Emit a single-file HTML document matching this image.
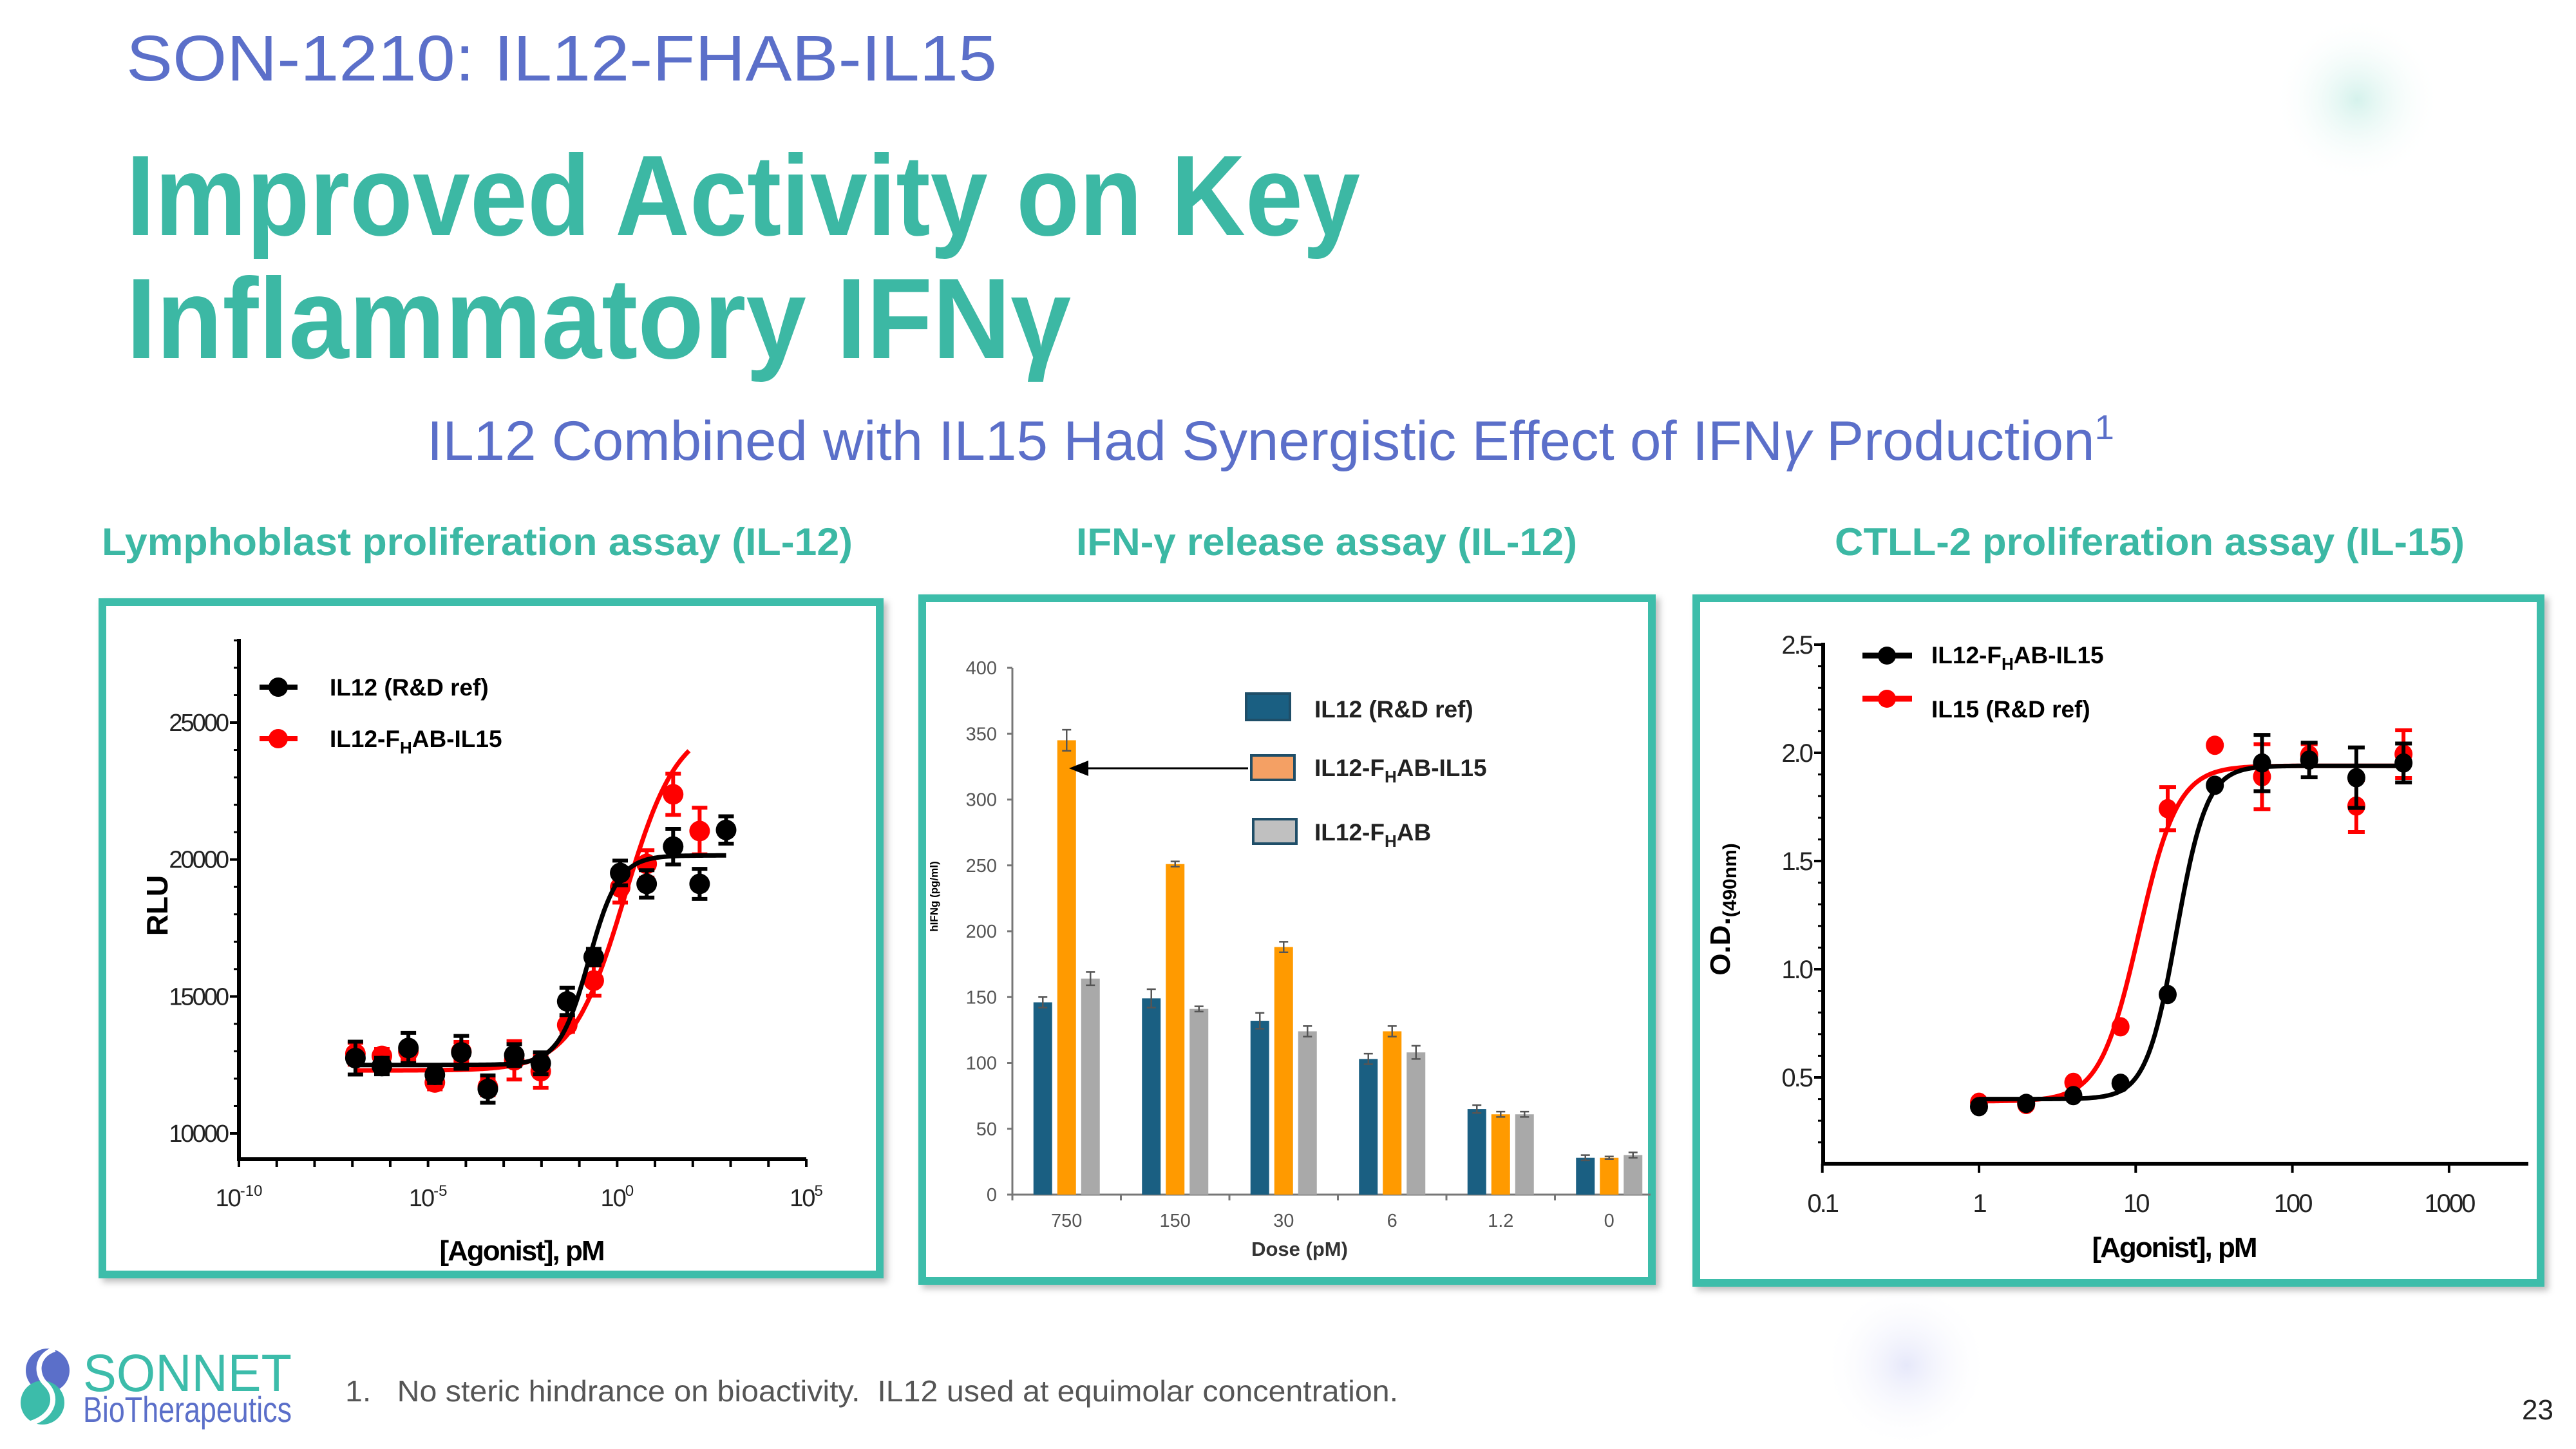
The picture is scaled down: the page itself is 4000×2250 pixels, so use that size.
<!DOCTYPE html>
<html><head><meta charset="utf-8"><style>
html,body{margin:0;padding:0;background:#fff;}
svg{display:block;font-family:"Liberation Sans",sans-serif;}
</style></head><body>
<svg id="s" width="4000" height="2250" viewBox="0 0 4000 2250" xmlns="http://www.w3.org/2000/svg">
<defs>
<radialGradient id="g1"><stop offset="0" stop-color="#d5f2ec"/><stop offset="1" stop-color="#fff" stop-opacity="0"/></radialGradient>
<radialGradient id="g2"><stop offset="0" stop-color="#e6e8fa"/><stop offset="1" stop-color="#fff" stop-opacity="0"/></radialGradient>
<filter id="sh" x="-5%" y="-5%" width="110%" height="110%"><feDropShadow dx="6" dy="6" stdDeviation="5" flood-color="#000" flood-opacity="0.25"/></filter>
</defs>
<circle cx="3660" cy="155" r="130" fill="url(#g1)"/>
<circle cx="2960" cy="2120" r="130" fill="url(#g2)"/>
<text x="196" y="125" font-size="100" fill="#5b6fc9" textLength="1352" lengthAdjust="spacingAndGlyphs">SON-1210: IL12-FHAB-IL15</text>
<text x="196" y="365" font-size="178" font-weight="bold" fill="#3cb8a4" textLength="1916" lengthAdjust="spacingAndGlyphs">Improved Activity on Key</text>
<text x="196" y="556" font-size="178" font-weight="bold" fill="#3cb8a4" textLength="1467" lengthAdjust="spacingAndGlyphs">Inflammatory IFNγ</text>
<text x="663" y="714" font-size="86" fill="#5b6fc9" textLength="2620" lengthAdjust="spacingAndGlyphs">IL12 Combined with IL15 Had Synergistic Effect of IFN<tspan font-style="italic">γ</tspan> Production<tspan font-size="54" dy="-32">1</tspan></text>
<text x="158" y="862" font-size="60" font-weight="bold" fill="#3cb8a4" textLength="1166" lengthAdjust="spacingAndGlyphs">Lymphoblast proliferation assay (IL-12)</text>
<text x="1671" y="862" font-size="60" font-weight="bold" fill="#3cb8a4" textLength="778" lengthAdjust="spacingAndGlyphs">IFN-γ release assay (IL-12)</text>
<text x="2849" y="862" font-size="60" font-weight="bold" fill="#3cb8a4" textLength="978" lengthAdjust="spacingAndGlyphs">CTLL-2 proliferation assay (IL-15)</text>
<rect x="159" y="935" width="1207" height="1044" fill="#fff" stroke="#3dbdaa" stroke-width="12" filter="url(#sh)"/>
<rect x="1432" y="929" width="1133" height="1060" fill="#fff" stroke="#3dbdaa" stroke-width="12" filter="url(#sh)"/>
<rect x="2634" y="929" width="1311" height="1063" fill="#fff" stroke="#3dbdaa" stroke-width="12" filter="url(#sh)"/>
<g id="c1"></g>
<g id="c2"></g>
<g id="c3"></g>
<g>
<ellipse cx="74" cy="2128" rx="34" ry="34" fill="#5b6fc9"/>
<ellipse cx="66" cy="2178" rx="34" ry="34" fill="#3cbcaa"/>
<path d="M85 2095 C55 2105,55 2135,72 2150 C90 2168,85 2198,48 2210" stroke="#fff" stroke-width="8" fill="none"/>
<text x="129" y="2160" font-size="82" fill="#3cbcaa" textLength="324" lengthAdjust="spacingAndGlyphs">SONNET</text>
<text x="129" y="2208" font-size="56" fill="#5b6fc9" textLength="324" lengthAdjust="spacingAndGlyphs">BioTherapeutics</text>
</g>
<text x="536" y="2176" font-size="46" fill="#555" style="white-space:pre" textLength="1635" lengthAdjust="spacingAndGlyphs">1.   No steric hindrance on bioactivity.  IL12 used at equimolar concentration.</text>
<text x="3916" y="2204" font-size="44" fill="#222">23</text>
</svg>
<script>
// ---- Chart 1 data (log10 pM) ----
const c1LogX = [-6.92,-6.22,-5.52,-4.82,-4.12,-3.42,-2.72,-2.02,-1.32,-0.62,0.08,0.78,1.48,2.18,2.88];
const c1Black = [12750,12460,13120,12140,12960,11620,12860,12560,14820,16440,19510,19110,20470,19110,21080];
const c1BlackErr = [600,300,550,300,600,500,400,400,500,300,450,500,650,550,500];
const c1RedLogX = [-6.92,-6.22,-5.52,-4.82,-4.12,-3.42,-2.72,-2.02,-1.32,-0.62,0.08,0.78,1.48,2.18];
const c1Red = [12910,12830,13000,11860,12990,11700,12670,12270,13960,15580,18980,19840,22380,21040];
const c1RedErr = [400,250,300,250,350,300,700,600,250,550,550,500,750,850];
const c1BlackFit = [12500,20150,-0.75,1.1];
const c1RedFit = [12300,25000,0.2,0.62];
const c1YTicks = [10000,15000,20000,25000];
const c1XTicks = [-10,-5,0,5];
// ---- Chart 2 data ----
const c2Cats = ["750","150","30","6","1.2","0"];
const c2Blue = [146,149,132,103,65,28];
const c2BlueErr = [4,7,6,4,3,2];
const c2Orange = [345,251,188,124,61,28];
const c2OrangeErr = [8,2,4,4,2,1];
const c2Gray = [164,141,124,108,61,30];
const c2GrayErr = [5,2,4,5,2,2];
const c2YTicks = [0,50,100,150,200,250,300,350,400];
// ---- Chart 3 data ----
const c3X = [1,2,4,8,16,32,64,128,256,512];
const c3Black = [0.365,0.38,0.416,0.473,0.883,1.85,1.953,1.967,1.885,1.953];
const c3BlackErr = [0,0,0,0,0,0,0.13,0.08,0.14,0.09];
const c3Red = [0.385,0.375,0.477,0.734,1.742,2.035,1.89,1.99,1.754,1.994];
const c3RedErr = [0,0,0,0,0.1,0,0.15,0.05,0.12,0.11];
const c3BlackFit = [0.40,1.94,1.26,4.5];
const c3RedFit = [0.39,1.94,1.02,3.5];
const c3YTicks = [0.5,1.0,1.5,2.0,2.5];
const c3XTicks = [0.1,1,10,100,1000];

const NS="http://www.w3.org/2000/svg";
function mk(p,tag,a,txt){const e=document.createElementNS(NS,tag);for(const k in a)e.setAttribute(k,a[k]);if(txt!==undefined)e.textContent=txt;p.appendChild(e);return e;}
function hill(f,lx){return f[0]+(f[1]-f[0])/(1+Math.pow(10,f[3]*(f[2]-lx)));}

// ===== Chart 1 =====
(function(){
const g=document.getElementById('c1');
const X0=371,X1=1252,Y0=1800,Ytop=992;
const xs=lx=>X0+(lx+10)/15*(X1-X0);
const ys=v=>1760-(v-10000)*(1760-1122)/15000;
let e;
e=mk(g,'line',{x1:X0,y1:Ytop,x2:X0,y2:Y0+3,stroke:'#000','stroke-width':6});

e=mk(g,'line',{x1:X0-3,y1:Y0,x2:X1,y2:Y0,stroke:'#000','stroke-width':6});

for(let v=10000;v<=28000;v+=1000){const big=c1YTicks.includes(v);mk(g,'line',{x1:X0-(big?14:8),y1:ys(v),x2:X0,y2:ys(v),stroke:'#000','stroke-width':big?4:3});}
c1YTicks.forEach(v=>{e=mk(g,'text',{x:X0-18,y:ys(v)+13,'font-size':38,'text-anchor':'end','letter-spacing':-3,fill:'#222'},String(v));
});
for(let l=-10;l<=5;l++){mk(g,'line',{x1:xs(l),y1:Y0,x2:xs(l),y2:Y0+12,stroke:'#000','stroke-width':4});}
c1XTicks.forEach(l=>{e=mk(g,'text',{x:xs(l),y:1873,'font-size':38,'text-anchor':'middle','letter-spacing':-2,fill:'#222'});

mk(e,'tspan',{},'10');mk(e,'tspan',{'font-size':24,dy:-16,'letter-spacing':0},(l<0?'-':'')+Math.abs(l));});
e=mk(g,'text',{x:810,y:1957,'font-size':44,'font-weight':'bold','text-anchor':'middle','letter-spacing':-2},'[Agonist], pM');

e=mk(g,'text',{x:0,y:0,'font-size':46,'font-weight':'bold','text-anchor':'middle',transform:'translate(260,1406) rotate(-90)'},'RLU');

function curve(f,a,b,col,nm){let d='';for(let i=0;i<=200;i++){const lx=a+(b-a)*i/200;d+=(i?'L':'M')+xs(lx).toFixed(1)+' '+ys(hill(f,lx)).toFixed(1);}
const p=mk(g,'path',{d:d,stroke:col,'stroke-width':7,fill:'none'});}
function pts(xa,va,ea,col,nm){xa.forEach((lx,i)=>{const x=xs(lx),y=ys(va[i]),t=ys(va[i]+ea[i]),b=ys(va[i]-ea[i]);
mk(g,'path',{d:`M${x} ${t}V${b}M${x-12} ${t}H${x+12}M${x-12} ${b}H${x+12}`,stroke:col,'stroke-width':6,fill:'none'});
const c=mk(g,'ellipse',{cx:x,cy:y,rx:16,ry:16,fill:col});});}
curve(c1RedFit,-6.92,1.9,'#f00','c1-red-fit');
pts(c1RedLogX,c1Red,c1RedErr,'#f00','c1-red-point');
curve(c1BlackFit,-6.92,2.88,'#000','c1-black-fit');
pts(c1LogX,c1Black,c1BlackErr,'#000','c1-black-point');
[[1067,'#000','IL12 (R&D ref)',false],[1147,'#f00','IL12-F',true]].forEach(r=>{
const lg=mk(g,'g',{});
mk(lg,'line',{x1:403,y1:r[0],x2:462,y2:r[0],stroke:r[1],'stroke-width':8});mk(lg,'ellipse',{cx:432,cy:r[0],rx:15,ry:15,fill:r[1]});
const t=mk(lg,'text',{x:512,y:r[0]+13,'font-size':37,'font-weight':'bold'},r[2]);
if(r[3]){mk(t,'tspan',{'font-size':26,dy:10},'H');mk(t,'tspan',{dy:-10},'AB-IL15');}});
})();

// ===== Chart 2 =====
(function(){
const g=document.getElementById('c2');
const X0=1572,CW=168.5,Y0=1855,PPU=2.045;
const ys=v=>Y0-v*PPU;const cx=i=>X0+CW*(i+0.5);
let e;
e=mk(g,'line',{x1:X0,y1:ys(400),x2:X0,y2:Y0,stroke:'#777','stroke-width':3});

e=mk(g,'line',{x1:X0-8,y1:Y0,x2:2563,y2:Y0,stroke:'#777','stroke-width':3});

c2YTicks.forEach(v=>{mk(g,'line',{x1:X0-8,y1:ys(v),x2:X0,y2:ys(v),stroke:'#777','stroke-width':3});
e=mk(g,'text',{x:X0-24,y:ys(v)+10,'font-size':29,'text-anchor':'end',fill:'#555'},String(v));
});
c2Cats.forEach((c,i)=>{mk(g,'line',{x1:X0+CW*i,y1:Y0,x2:X0+CW*i,y2:Y0+9,stroke:'#777','stroke-width':3});
e=mk(g,'text',{x:cx(i),y:1905,'font-size':29,'text-anchor':'middle',fill:'#555'},c);
});
e=mk(g,'text',{x:2018,y:1950,'font-size':31,'font-weight':'bold','text-anchor':'middle',fill:'#333'},'Dose (pM)');

e=mk(g,'text',{x:0,y:0,'font-size':17,'font-weight':'bold','text-anchor':'middle',transform:'translate(1456,1392) rotate(-90)'},'hIFNg (pg/ml)');

[[c2Blue,c2BlueErr,'#1a5f82',-37,'c2-bar-il12'],[c2Orange,c2OrangeErr,'#ff9a00',0,'c2-bar-il12-fhab-il15'],[c2Gray,c2GrayErr,'#a9a9a9',37,'c2-bar-il12-fhab']].forEach(s=>{
s[0].forEach((v,i)=>{const x=cx(i)+s[3];
const r=mk(g,'rect',{x:x-14.5,y:ys(v),width:29,height:v*PPU,fill:s[2]});
const t=ys(v+s[1][i]),b=ys(v-s[1][i]);mk(g,'path',{d:`M${x} ${t}V${b}M${x-7} ${t}H${x+7}M${x-7} ${b}H${x+7}`,stroke:'#555','stroke-width':2.5,fill:'none'});});});
e=mk(g,'path',{d:'M1938 1193H1686',stroke:'#000','stroke-width':3,fill:'none'});

mk(g,'path',{d:'M1660 1193L1690 1181L1690 1205Z',fill:'#000'});
[[1935,1077,68,41,'#1a5f82','IL12 (R&D ref)',false,1114],[1943,1173,67,38,'#f4a064','IL12-F',true,1205],[1946,1272,67,38,'#c0c0c0','IL12-F',true,1305]].forEach((r,k)=>{
const lg=mk(g,'g',{});
mk(lg,'rect',{x:r[0],y:r[1],width:r[2],height:r[3],fill:r[4],stroke:'#1f4e68','stroke-width':4});
const t=mk(lg,'text',{x:2041,y:r[7],'font-size':37,'font-weight':'bold',fill:'#222'},r[5]);
if(r[6]){mk(t,'tspan',{'font-size':26,dy:10},'H');mk(t,'tspan',{dy:-10},k==1?'AB-IL15':'AB');}});
})();

// ===== Chart 3 =====
(function(){
const g=document.getElementById('c3');
const X0=2831,X1=3926,Y0=1807,DEC=243.3;
const xs=v=>3073+Math.log10(v)*DEC;const xl=lx=>3073+lx*DEC;
const ys=v=>1673-(v-0.5)*336;
let e;
e=mk(g,'line',{x1:X0,y1:ys(2.5)-3,x2:X0,y2:Y0+3,stroke:'#000','stroke-width':6});

e=mk(g,'line',{x1:X0-3,y1:Y0,x2:X1,y2:Y0,stroke:'#000','stroke-width':6});

for(let k=2;k<=25;k++){const v=k/10,big=(k%5==0);mk(g,'line',{x1:X0-(big?14:8),y1:ys(v),x2:X0,y2:ys(v),stroke:'#000','stroke-width':big?4:3});}
c3YTicks.forEach(v=>{e=mk(g,'text',{x:X0-18,y:ys(v)+14,'font-size':40,'text-anchor':'end','letter-spacing':-3,fill:'#222'},v.toFixed(1));
});
c3XTicks.forEach(v=>{mk(g,'line',{x1:xs(v),y1:Y0,x2:xs(v),y2:Y0+14,stroke:'#000','stroke-width':4});
e=mk(g,'text',{x:xs(v),y:1882,'font-size':40,'text-anchor':'middle','letter-spacing':-3,fill:'#222'},String(v));
});
e=mk(g,'text',{x:3376,y:1952,'font-size':44,'font-weight':'bold','text-anchor':'middle','letter-spacing':-2},'[Agonist], pM');

e=mk(g,'text',{x:0,y:0,'font-size':44,'font-weight':'bold','text-anchor':'middle',transform:'translate(2686,1412) rotate(-90)'},'O.D.');

mk(e,'tspan',{'font-size':30,dy:10},'(490nm)');
function curve(f,col,nm){let d='';const a=0,b=Math.log10(512);for(let i=0;i<=200;i++){const lx=a+(b-a)*i/200;d+=(i?'L':'M')+xl(lx).toFixed(1)+' '+ys(hill(f,lx)).toFixed(1);}
const p=mk(g,'path',{d:d,stroke:col,'stroke-width':7,fill:'none'});}
function pts(va,ea,col,nm){c3X.forEach((xv,i)=>{const x=xs(xv),y=ys(va[i]);
if(ea[i]>0){const t=ys(va[i]+ea[i]),b=ys(va[i]-ea[i]);mk(g,'path',{d:`M${x} ${t}V${b}M${x-13} ${t}H${x+13}M${x-13} ${b}H${x+13}`,stroke:col,'stroke-width':6,fill:'none'});}
const c=mk(g,'ellipse',{cx:x,cy:y,rx:14,ry:15,fill:col});});}
curve(c3RedFit,'#f00','c3-red-fit');pts(c3Red,c3RedErr,'#f00','c3-red-point');
curve(c3BlackFit,'#000','c3-black-fit');pts(c3Black,c3BlackErr,'#000','c3-black-point');
[[1018,'#000','IL12-F',true,1030],[1085,'#f00','IL15 (R&D ref)',false,1114]].forEach(r=>{
const lg=mk(g,'g',{});
mk(lg,'line',{x1:2892,y1:r[0],x2:2969,y2:r[0],stroke:r[1],'stroke-width':9});mk(lg,'ellipse',{cx:2930,cy:r[0],rx:14,ry:14,fill:r[1]});
const t=mk(lg,'text',{x:2999,y:r[4],'font-size':37,'font-weight':'bold'},r[2]);
if(r[3]){mk(t,'tspan',{'font-size':26,dy:10},'H');mk(t,'tspan',{dy:-10},'AB-IL15');}});
})();
</script>
</body></html>
